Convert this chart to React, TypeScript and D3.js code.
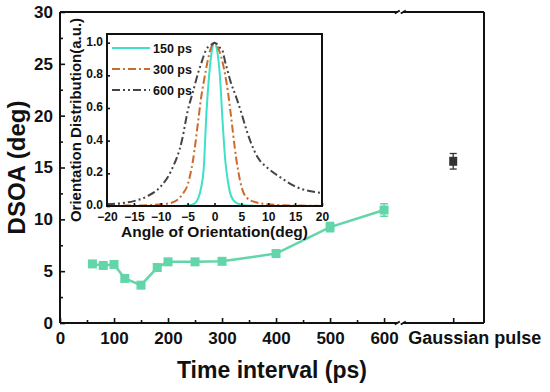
import { useEffect, useRef } from "react";
import * as d3 from "d3";

// main chart data
const intervals = [60, 80, 100, 120, 150, 180, 200, 250, 300, 400, 500, 600];
const dsoa = [5.7, 5.55, 5.65, 4.3, 3.65, 5.35, 5.9, 5.9, 5.95, 6.7, 9.25, 10.9];
const dsoaErr = [0.25, 0.25, 0.25, 0.3, 0.3, 0.3, 0.25, 0.2, 0.2, 0.25, 0.45, 0.6];
const gaussLabel = "Gaussian pulse";
const gaussValue = 15.6;
const gaussErr = 0.75;
const xTicks = [0, 100, 200, 300, 400, 500, 600];
const xMinorTicks = [50, 150, 250, 350, 450, 550];
const yTicks = [0, 5, 10, 15, 20, 25, 30];
const yMinorTicks = [2.5, 7.5, 12.5, 17.5, 22.5, 27.5];

// inset data
const angles = [-20, -15, -12.5, -10, -8, -6, -5, -4, -3, -2.5, -2, -1.5, -1, -0.5, 0, 0.5, 1, 1.5, 2, 2.5, 3, 4, 5, 6, 8, 10, 12.5, 15, 20];
const dist150 = [0, 0, 0, 0, 0, 0, 0.003, 0.01, 0.05, 0.11, 0.23, 0.57, 0.8, 0.95, 1, 0.95, 0.8, 0.52, 0.28, 0.15, 0.07, 0.02, 0.008, 0.003, 0, 0, 0, 0, 0];
const dist300 = [0.005, 0.003, 0.005, 0.01, 0.02, 0.07, 0.13, 0.28, 0.53, 0.66, 0.76, 0.85, 0.93, 0.98, 1, 0.98, 0.94, 0.88, 0.8, 0.7, 0.57, 0.3, 0.12, 0.05, 0.02, 0.01, 0.005, 0.003, 0];
const dist600 = [0.01, 0.03, 0.06, 0.12, 0.22, 0.41, 0.58, 0.7, 0.82, 0.87, 0.92, 0.96, 0.98, 0.99, 1, 0.99, 0.97, 0.95, 0.88, 0.82, 0.76, 0.67, 0.57, 0.46, 0.3, 0.23, 0.17, 0.12, 0.08];
const seriesNames = ["150 ps", "300 ps", "600 ps"];
const insetXTicks = [-20, -15, -10, -5, 0, 5, 10, 15, 20];
const insetYTicks = [0, 0.2, 0.4, 0.6, 0.8, 1.0];

const W = 550;
const H = 392;
const PLOT = { left: 60, right: 484, top: 12, bottom: 323 };
const INSET = { left: 107, right: 322, top: 34, bottom: 206 };
const X_MAX = 785; // data units at right frame
const BREAK_POS = 630;
const GAUSS_POS = 728;
const FONT = "'Liberation Sans', Arial, sans-serif";
const GREEN = "#62d6a8";
const INSET_STYLES = [
  { color: "#3fe0c8", dash: null },
  { color: "#cd6a2c", dash: "8 3 2 3" },
  { color: "#444444", dash: "8 3 2 3 2 3" },
];

export default function App() {
  const svgRef = useRef<SVGSVGElement>(null);

  useEffect(() => {
    if (!svgRef.current) return;
    document.body.style.margin = "0";
    const svg = d3.select(svgRef.current);
    svg.selectAll("*").remove();

    const x = d3.scaleLinear().domain([0, X_MAX]).range([PLOT.left, PLOT.right]);
    const y = d3.scaleLinear().domain([0, 30]).range([PLOT.bottom, PLOT.top]);

    const styleAxis = (g: d3.Selection<SVGGElement, unknown, null, undefined>, size: number) => {
      g.select(".domain").remove();
      g.selectAll("line").attr("stroke", "#111").attr("stroke-width", 1.6);
      g.selectAll("text")
        .attr("font-family", FONT)
        .attr("font-weight", "bold")
        .attr("font-size", size)
        .attr("fill", "#111");
    };

    // main axes
    const gx = svg
      .append("g")
      .attr("transform", `translate(0,${PLOT.bottom})`)
      .call(d3.axisBottom(x).tickValues(xTicks).tickSize(-5).tickPadding(9).tickFormat(d3.format("d")));
    styleAxis(gx, 17);
    const gxm = svg
      .append("g")
      .attr("transform", `translate(0,${PLOT.bottom})`)
      .call(d3.axisBottom(x).tickValues(xMinorTicks).tickSize(-3).tickFormat(() => ""));
    styleAxis(gxm, 17);
    const gg = svg
      .append("g")
      .attr("transform", `translate(0,${PLOT.bottom})`)
      .call(d3.axisBottom(x).tickValues([GAUSS_POS]).tickSize(-5).tickFormat(() => ""));
    styleAxis(gg, 17);
    svg
      .append("text")
      .attr("x", x(BREAK_POS) + 8)
      .attr("y", PLOT.bottom + 21)
      .attr("font-family", FONT)
      .attr("font-weight", "bold")
      .attr("font-size", 18)
      .attr("fill", "#111")
      .text(gaussLabel);

    const gy = svg
      .append("g")
      .attr("transform", `translate(${PLOT.left},0)`)
      .call(d3.axisLeft(y).tickValues(yTicks).tickSize(-5).tickPadding(7));
    styleAxis(gy, 17);
    const gym = svg
      .append("g")
      .attr("transform", `translate(${PLOT.left},0)`)
      .call(d3.axisLeft(y).tickValues(yMinorTicks).tickSize(-3).tickFormat(() => ""));
    styleAxis(gym, 17);

    // frame with breaks
    const bx = x(BREAK_POS);
    const frame = svg.append("g").attr("stroke", "#111").attr("stroke-width", 2).attr("fill", "none");
    frame.append("line").attr("x1", PLOT.left).attr("x2", PLOT.left).attr("y1", PLOT.top).attr("y2", PLOT.bottom);
    frame.append("line").attr("x1", PLOT.right).attr("x2", PLOT.right).attr("y1", PLOT.top).attr("y2", PLOT.bottom);
    [PLOT.top, PLOT.bottom].forEach((yy) => {
      frame.append("line").attr("x1", PLOT.left).attr("x2", bx - 3).attr("y1", yy).attr("y2", yy);
      frame.append("line").attr("x1", bx + 3).attr("x2", PLOT.right).attr("y1", yy).attr("y2", yy);
      [bx - 3, bx + 3].forEach((cx) => {
        frame
          .append("line")
          .attr("x1", cx - 2.5)
          .attr("x2", cx + 2.5)
          .attr("y1", yy + 1.5)
          .attr("y2", yy - 1.5);
      });
    });

    // titles
    svg
      .append("text")
      .attr("transform", `translate(25,${(PLOT.top + PLOT.bottom) / 2}) rotate(-90)`)
      .attr("text-anchor", "middle")
      .attr("font-family", FONT)
      .attr("font-weight", "bold")
      .attr("font-size", 24)
      .attr("fill", "#111")
      .text("DSOA (deg)");
    svg
      .append("text")
      .attr("x", (PLOT.left + PLOT.right) / 2)
      .attr("y", 378)
      .attr("text-anchor", "middle")
      .attr("font-family", FONT)
      .attr("font-weight", "bold")
      .attr("font-size", 23)
      .attr("fill", "#111")
      .text("Time interval (ps)");

    // main series
    const pts = intervals.map((t, i) => ({ t, v: dsoa[i], e: dsoaErr[i] }));
    svg
      .append("path")
      .datum(pts)
      .attr("fill", "none")
      .attr("stroke", GREEN)
      .attr("stroke-width", 2.5)
      .attr(
        "d",
        d3
          .line<{ t: number; v: number }>()
          .x((d) => x(d.t))
          .y((d) => y(d.v))
      );
    const errG = svg.append("g").attr("stroke", GREEN).attr("stroke-width", 1.5);
    pts.forEach((d) => {
      errG.append("line").attr("x1", x(d.t)).attr("x2", x(d.t)).attr("y1", y(d.v - d.e)).attr("y2", y(d.v + d.e));
      [d.v - d.e, d.v + d.e].forEach((yv) => {
        errG.append("line").attr("x1", x(d.t) - 4).attr("x2", x(d.t) + 4).attr("y1", y(yv)).attr("y2", y(yv));
      });
    });
    svg
      .append("g")
      .selectAll("rect")
      .data(pts)
      .join("rect")
      .attr("x", (d) => x(d.t) - 4.5)
      .attr("y", (d) => y(d.v) - 4.5)
      .attr("width", 9)
      .attr("height", 9)
      .attr("fill", GREEN);

    // gaussian point
    const gxp = x(GAUSS_POS);
    const gG = svg.append("g").attr("stroke", "#333").attr("stroke-width", 1.3);
    gG.append("line").attr("x1", gxp).attr("x2", gxp).attr("y1", y(gaussValue - gaussErr)).attr("y2", y(gaussValue + gaussErr));
    [gaussValue - gaussErr, gaussValue + gaussErr].forEach((yv) => {
      gG.append("line").attr("x1", gxp - 3.5).attr("x2", gxp + 3.5).attr("y1", y(yv)).attr("y2", y(yv));
    });
    svg
      .append("rect")
      .attr("x", gxp - 4)
      .attr("y", y(gaussValue) - 4.5)
      .attr("width", 8)
      .attr("height", 9)
      .attr("fill", "#333");

    // inset
    const ix = d3.scaleLinear().domain([-20, 20]).range([INSET.left, INSET.right]);
    const iy = d3.scaleLinear().domain([0, 1.053]).range([INSET.bottom, INSET.top]);
    svg
      .append("rect")
      .attr("x", INSET.left)
      .attr("y", INSET.top)
      .attr("width", INSET.right - INSET.left)
      .attr("height", INSET.bottom - INSET.top)
      .attr("fill", "#fff");

    const line = d3
      .line<[number, number]>()
      .x((d) => ix(d[0]))
      .y((d) => iy(d[1]))
      .curve(d3.curveMonotoneX);
    [dist150, dist300, dist600].forEach((vals, i) => {
      const p = svg
        .append("path")
        .datum(angles.map((a, j) => [a, vals[j]] as [number, number]))
        .attr("fill", "none")
        .attr("stroke", INSET_STYLES[i].color)
        .attr("stroke-width", 2)
        .attr("d", line);
      if (INSET_STYLES[i].dash) p.attr("stroke-dasharray", INSET_STYLES[i].dash);
    });

    const gix = svg
      .append("g")
      .attr("transform", `translate(0,${INSET.bottom})`)
      .call(
        d3
          .axisBottom(ix)
          .tickValues(insetXTicks)
          .tickSize(-3)
          .tickPadding(6)
          .tickFormat((d) => (+d < 0 ? `\u2212${-d}` : `${d}`))
      );
    styleAxis(gix, 12);
    const giy = svg
      .append("g")
      .attr("transform", `translate(${INSET.left},0)`)
      .call(d3.axisLeft(iy).tickValues(insetYTicks).tickSize(-3).tickPadding(4).tickFormat(d3.format(".1f")));
    styleAxis(giy, 12);
    giy.selectAll("text").attr("dy", "0.2em");
    svg
      .append("rect")
      .attr("x", INSET.left)
      .attr("y", INSET.top)
      .attr("width", INSET.right - INSET.left)
      .attr("height", INSET.bottom - INSET.top)
      .attr("fill", "none")
      .attr("stroke", "#111")
      .attr("stroke-width", 2);

    // inset legend
    seriesNames.forEach((name, i) => {
      const ly = 48 + i * 21;
      const l = svg
        .append("line")
        .attr("x1", 112)
        .attr("x2", 150)
        .attr("y1", ly)
        .attr("y2", ly)
        .attr("stroke", INSET_STYLES[i].color)
        .attr("stroke-width", 2);
      if (INSET_STYLES[i].dash) l.attr("stroke-dasharray", INSET_STYLES[i].dash);
      svg
        .append("text")
        .attr("x", 153)
        .attr("y", ly + 4.5)
        .attr("font-family", FONT)
        .attr("font-weight", "bold")
        .attr("font-size", 12.5)
        .attr("fill", "#111")
        .text(name);
    });

    svg
      .append("text")
      .attr("x", (INSET.left + INSET.right) / 2)
      .attr("y", 237)
      .attr("text-anchor", "middle")
      .attr("font-family", FONT)
      .attr("font-weight", "bold")
      .attr("font-size", 15.5)
      .attr("fill", "#111")
      .text("Angle of Orientation(deg)");
    svg
      .append("text")
      .attr("transform", `translate(81,${(INSET.top + INSET.bottom) / 2}) rotate(-90)`)
      .attr("text-anchor", "middle")
      .attr("font-family", FONT)
      .attr("font-weight", "bold")
      .attr("font-size", 15)
      .attr("fill", "#111")
      .text("Orientation Distribution(a.u.)");
  }, []);

  return <svg ref={svgRef} width={W} height={H} style={{ display: "block", background: "#fff" }} />;
}
